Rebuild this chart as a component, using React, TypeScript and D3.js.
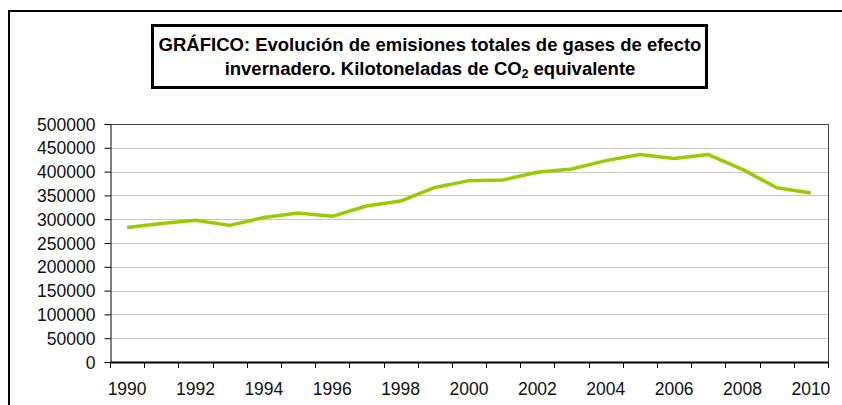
import React, { useEffect, useRef } from 'react';
import * as d3 from 'd3';

// data
const years = [
	1990, 1991, 1992, 1993, 1994, 1995, 1996, 1997, 1998, 1999, 2000,
	2001, 2002, 2003, 2004, 2005, 2006, 2007, 2008, 2009, 2010,
];
const emissions = [
	282600, 291000, 298000, 287000, 303500, 313000, 306000, 327800, 338200, 366700, 381000,
	382600, 398500, 405400, 423000, 435800, 427700, 435800, 404700, 366000, 355000,
];
const yTicks = [0, 50000, 100000, 150000, 200000, 250000, 300000, 350000, 400000, 450000, 500000];
const titleLines = ['GRÁFICO: Evolución de emisiones totales de gases de efecto', 'invernadero. Kilotoneladas de CO'];

const W = 842;
const H = 405;

const draw = (node: SVGSVGElement) => {
	const svg = d3.select(node);
	svg.selectAll('*').remove();

	const plot = { left: 110, right: 828, top: 124, bottom: 362 };
	const font = '"Liberation Sans", Arial, sans-serif';

	// outer frame
	svg.append('rect')
		.attr('x', 9).attr('y', 11)
		.attr('width', W).attr('height', H)
		.attr('fill', 'white').attr('stroke', 'black').attr('stroke-width', 2);

	// title box
	svg.append('rect')
		.attr('x', 152.5).attr('y', 25.5)
		.attr('width', 554).attr('height', 62)
		.attr('fill', 'white').attr('stroke', 'black').attr('stroke-width', 3);

	const title = svg.append('g')
		.attr('font-family', font)
		.attr('font-weight', 'bold')
		.attr('font-size', '18.5px')
		.attr('text-anchor', 'middle')
		.attr('fill', 'black');
	title.append('text').attr('x', 430).attr('y', 51).text(titleLines[0]);
	const l2 = title.append('text').attr('x', 430).attr('y', 75);
	l2.append('tspan').text(titleLines[1]);
	l2.append('tspan').attr('font-size', '12px').attr('dy', 3).text('2');
	l2.append('tspan').attr('dy', -3).text(' equivalente');

	const x = d3.scaleBand<number>().domain(years).range([plot.left, plot.right]);
	const y = d3.scaleLinear().domain([0, 500000]).range([plot.bottom, plot.top]);

	// gridlines
	svg.append('g')
		.selectAll('line')
		.data(yTicks.filter(d => d > 0 && d < 500000))
		.join('line')
		.attr('x1', plot.left).attr('x2', plot.right)
		.attr('y1', d => Math.round(y(d)) + 0.5).attr('y2', d => Math.round(y(d)) + 0.5)
		.attr('stroke', '#c6c6c6').attr('stroke-width', 1);

	// top and right border of plot area
	svg.append('path')
		.attr('d', `M${plot.left},${plot.top + 0.5}H${plot.right + 0.5}V${plot.bottom}`)
		.attr('fill', 'none').attr('stroke', '#404040').attr('stroke-width', 1);

	// y axis
	const yAxis = svg.append('g')
		.attr('transform', `translate(${plot.left + 0.5},0)`)
		.call(d3.axisLeft(y).tickValues(yTicks).tickSize(6).tickSizeOuter(0).tickPadding(9).tickFormat(d3.format('d')));
	yAxis.select('.domain').attr('stroke', 'black');
	yAxis.selectAll('line').attr('stroke', 'black');
	yAxis.selectAll('text')
		.attr('font-family', font).attr('font-size', '17.5px').attr('fill', '#111')
		.attr('dy', '0.35em');

	// x axis: ticks on category boundaries, labels every other year
	const xg = svg.append('g').attr('transform', `translate(0,${plot.bottom})`);
	xg.append('line')
		.attr('x1', plot.left).attr('x2', plot.right + 1)
		.attr('y1', 0.5).attr('y2', 0.5)
		.attr('stroke', 'black').attr('stroke-width', 2);
	const bounds = years.map(d => x(d) as number).concat([plot.right]);
	xg.selectAll('line.tick')
		.data(bounds)
		.join('line')
		.attr('class', 'tick')
		.attr('x1', d => Math.round(d) + 0.5).attr('x2', d => Math.round(d) + 0.5)
		.attr('y1', 0).attr('y2', 6)
		.attr('stroke', 'black');
	xg.selectAll('text')
		.data(years.filter((d, i) => i % 2 === 0))
		.join('text')
		.attr('x', d => (x(d) as number) + x.bandwidth() / 2)
		.attr('y', 33)
		.attr('text-anchor', 'middle')
		.attr('font-family', font).attr('font-size', '17.5px').attr('fill', '#111')
		.text(d => d);

	// series line
	const line = d3.line<number>()
		.x((d, i) => (x(years[i]) as number) + x.bandwidth() / 2)
		.y(d => y(d));
	svg.append('path')
		.datum(emissions)
		.attr('d', line)
		.attr('fill', 'none')
		.attr('stroke', '#99cc00')
		.attr('stroke-width', 3.5)
		.attr('stroke-linejoin', 'round');
};

export default function App() {
	const ref = useRef<SVGSVGElement>(null);
	useEffect(() => {
		if (ref.current) draw(ref.current);
	}, []);
	return (
		<svg ref={ref} width={W} height={H}
			style={{ position: 'absolute', left: 0, top: 0, display: 'block', background: 'white' }} />
	);
}
